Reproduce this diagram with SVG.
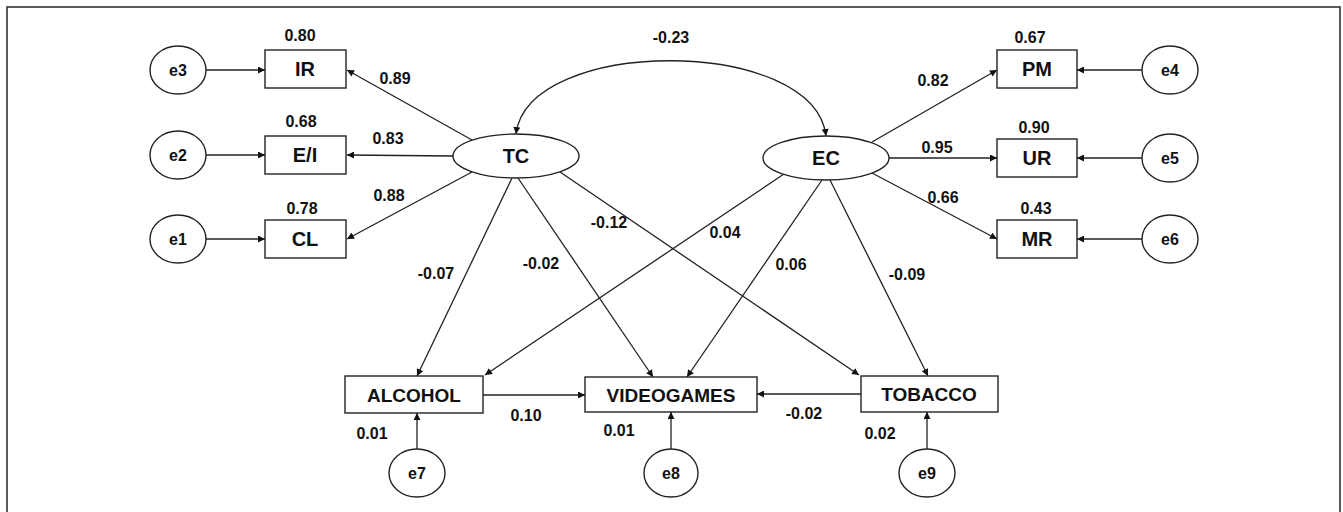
<svg xmlns="http://www.w3.org/2000/svg" width="1343" height="512" viewBox="0 0 1343 512">
<defs>
<marker id="ah" viewBox="0 0 10 10" refX="10" refY="5" markerWidth="9" markerHeight="7" markerUnits="userSpaceOnUse" orient="auto-start-reverse"><path d="M0,0 L10,5 L0,10 z" fill="#111"/></marker>
<style>
.f{font-family:"Liberation Sans",Arial,sans-serif;font-weight:bold;fill:#111;text-anchor:middle;dominant-baseline:central}
.n{font-size:20px}
.b{font-size:19px}
.e{font-size:16px}
.c{font-size:16px}
.box{fill:#fff;stroke:#222;stroke-width:1.4}
.ell{fill:#fff;stroke:#222;stroke-width:1.4}
.ln{fill:none;stroke:#222;stroke-width:1.3;marker-end:url(#ah)}
</style>
</defs>
<rect width="1343" height="512" fill="#fff"/>
<rect x="7" y="7" width="1333" height="530" fill="none" stroke="#333" stroke-width="1.6"/>
<g id="connectors">
<line class="ln" x1="206" y1="70" x2="265" y2="70"/>
<line class="ln" x1="206" y1="155" x2="265" y2="155"/>
<line class="ln" x1="206" y1="239" x2="265" y2="239"/>
<line class="ln" x1="472" y1="140" x2="347" y2="70"/>
<line class="ln" x1="453" y1="156" x2="347" y2="155"/>
<line class="ln" x1="472" y1="172" x2="347" y2="239"/>
<path class="ln" style="marker-start:url(#ah)" d="M516,134 C528,36 814,36 826,136"/>
<line class="ln" x1="872" y1="142" x2="997" y2="70"/>
<line class="ln" x1="889" y1="158" x2="997" y2="158"/>
<line class="ln" x1="872" y1="173" x2="997" y2="239"/>
<line class="ln" x1="1142" y1="70" x2="1077" y2="70"/>
<line class="ln" x1="1142" y1="158" x2="1077" y2="158"/>
<line class="ln" x1="1142" y1="239" x2="1077" y2="239"/>
<line class="ln" x1="512" y1="178" x2="417" y2="376"/>
<line class="ln" x1="518" y1="178" x2="653" y2="377"/>
<line class="ln" x1="560" y1="172" x2="859" y2="375"/>
<line class="ln" x1="784" y1="174" x2="485" y2="375"/>
<line class="ln" x1="822" y1="180" x2="687" y2="377"/>
<line class="ln" x1="830" y1="180" x2="928" y2="376"/>
<line class="ln" x1="483" y1="395" x2="585" y2="395"/>
<line class="ln" x1="861" y1="394" x2="757" y2="394"/>
<line class="ln" x1="417" y1="449" x2="417" y2="413"/>
<line class="ln" x1="671" y1="449" x2="671" y2="412"/>
<line class="ln" x1="927" y1="449" x2="927" y2="412"/>
</g>
<g id="e3"><ellipse class="ell" cx="178" cy="70" rx="28" ry="24"/><text class="f e" x="178" y="70">e3</text></g>
<g id="e2"><ellipse class="ell" cx="178" cy="155" rx="28" ry="24"/><text class="f e" x="178" y="155">e2</text></g>
<g id="e1"><ellipse class="ell" cx="178" cy="239" rx="28" ry="24"/><text class="f e" x="178" y="239">e1</text></g>
<g id="IR"><rect class="box" x="265" y="50" width="81" height="38"/><text class="f n" x="305" y="69">IR</text><text class="f c" x="300" y="35">0.80</text></g>
<g id="EI"><rect class="box" x="265" y="136" width="81" height="38"/><text class="f n" x="305" y="155">E/I</text><text class="f c" x="301" y="121">0.68</text></g>
<g id="CL"><rect class="box" x="265" y="220" width="81" height="38"/><text class="f n" x="305" y="239">CL</text><text class="f c" x="302" y="208">0.78</text></g>
<g id="TC"><ellipse class="ell" cx="516" cy="156" rx="63" ry="22"/><text class="f n" x="516" y="156">TC</text></g>
<g id="EC"><ellipse class="ell" cx="826" cy="158" rx="63" ry="22"/><text class="f n" x="826" y="158">EC</text></g>
<g id="PM"><rect class="box" x="997" y="50" width="80" height="38"/><text class="f n" x="1037" y="69">PM</text><text class="f c" x="1030" y="37">0.67</text></g>
<g id="UR"><rect class="box" x="997" y="139" width="80" height="38"/><text class="f n" x="1037" y="158">UR</text><text class="f c" x="1034" y="127">0.90</text></g>
<g id="MR"><rect class="box" x="997" y="220" width="80" height="38"/><text class="f n" x="1037" y="239">MR</text><text class="f c" x="1036" y="208">0.43</text></g>
<g id="e4"><ellipse class="ell" cx="1170" cy="70" rx="28" ry="24"/><text class="f e" x="1170" y="70">e4</text></g>
<g id="e5"><ellipse class="ell" cx="1170" cy="158" rx="28" ry="24"/><text class="f e" x="1170" y="158">e5</text></g>
<g id="e6"><ellipse class="ell" cx="1170" cy="239" rx="28" ry="24"/><text class="f e" x="1170" y="239">e6</text></g>
<g id="ALCOHOL"><rect class="box" x="345" y="376" width="138" height="37"/><text class="f b" x="414" y="395">ALCOHOL</text><text class="f c" x="372" y="433">0.01</text></g>
<g id="VIDEOGAMES"><rect class="box" x="585" y="377" width="172" height="35"/><text class="f b" x="671" y="395">VIDEOGAMES</text><text class="f c" x="619" y="430">0.01</text></g>
<g id="TOBACCO"><rect class="box" x="861" y="376" width="137" height="36"/><text class="f b" x="929" y="394">TOBACCO</text><text class="f c" x="880" y="433">0.02</text></g>
<g id="e7"><ellipse class="ell" cx="417" cy="473" rx="28" ry="24"/><text class="f e" x="417" y="473">e7</text></g>
<g id="e8"><ellipse class="ell" cx="671" cy="473" rx="27" ry="24"/><text class="f e" x="671" y="473">e8</text></g>
<g id="e9"><ellipse class="ell" cx="927" cy="473" rx="28" ry="24"/><text class="f e" x="927" y="473">e9</text></g>
<g id="labels">
<text class="f c" x="671" y="37">-0.23</text>
<text class="f c" x="395" y="78">0.89</text>
<text class="f c" x="388" y="138">0.83</text>
<text class="f c" x="389" y="195">0.88</text>
<text class="f c" x="933" y="80">0.82</text>
<text class="f c" x="937" y="147">0.95</text>
<text class="f c" x="943" y="197">0.66</text>
<text class="f c" x="436" y="273">-0.07</text>
<text class="f c" x="541" y="263">-0.02</text>
<text class="f c" x="609" y="222">-0.12</text>
<text class="f c" x="725" y="232">0.04</text>
<text class="f c" x="791" y="264">0.06</text>
<text class="f c" x="907" y="274">-0.09</text>
<text class="f c" x="526" y="415">0.10</text>
<text class="f c" x="804" y="413">-0.02</text>
</g>
</svg>
